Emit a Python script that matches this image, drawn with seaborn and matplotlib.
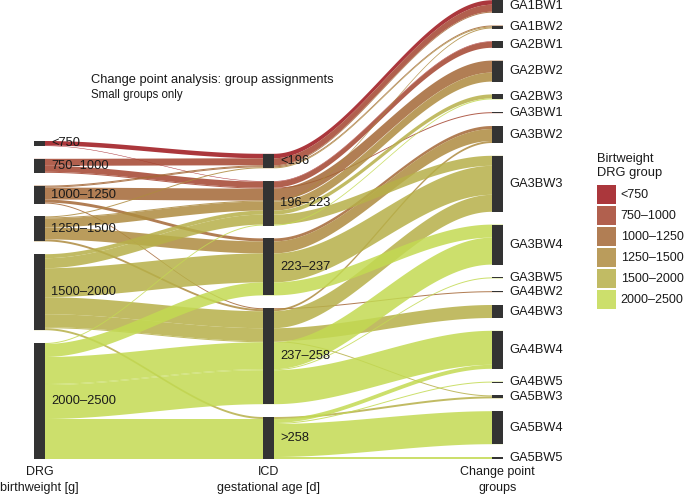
import numpy as np
import pandas as pd
import matplotlib
matplotlib.use("Agg")
import matplotlib.pyplot as plt
from matplotlib.patches import Patch
import seaborn as sns

# ---------------- data ----------------
drg_levels = ["<750", "750–1000", "1000–1250", "1250–1500", "1500–2000", "2000–2500"]
icd_levels = ["<196", "196–223", "223–237", "237–258", ">258"]
cp_levels = ["GA1BW1", "GA1BW2", "GA2BW1", "GA2BW2", "GA2BW3", "GA3BW1", "GA3BW2",
             "GA3BW3", "GA3BW4", "GA3BW5", "GA4BW2", "GA4BW3", "GA4BW4", "GA4BW5",
             "GA5BW3", "GA5BW4", "GA5BW5"]

flow_drg = ["<750", "<750",
            "750–1000", "750–1000", "750–1000",
            "1000–1250", "1000–1250", "1000–1250", "1000–1250", "1000–1250",
            "1250–1500", "1250–1500", "1250–1500", "1250–1500", "1250–1500",
            "1500–2000", "1500–2000", "1500–2000", "1500–2000", "1500–2000", "1500–2000", "1500–2000",
            "2000–2500", "2000–2500", "2000–2500", "2000–2500", "2000–2500", "2000–2500",
            "2000–2500", "2000–2500", "2000–2500"]
flow_icd = ["<196", "196–223",
            "<196", "196–223", "196–223",
            "<196", "<196", "196–223", "223–237", "237–258",
            "<196", "196–223", "196–223", "223–237", "237–258",
            "196–223", "196–223", "223–237", "237–258", "237–258", "237–258", ">258",
            "196–223", "223–237", "237–258", "237–258", "237–258", ">258",
            ">258", ">258", ">258"]
flow_cp = ["GA1BW1", "GA2BW1",
           "GA1BW1", "GA2BW1", "GA3BW1",
           "GA1BW1", "GA1BW2", "GA2BW2", "GA3BW2", "GA4BW2",
           "GA1BW2", "GA1BW2", "GA2BW2", "GA3BW2", "GA3BW2",
           "GA2BW3", "GA3BW3", "GA3BW3", "GA3BW3", "GA4BW3", "GA5BW3", "GA5BW3",
           "GA2BW3", "GA3BW4", "GA3BW4", "GA3BW5", "GA4BW4", "GA4BW4",
           "GA4BW5", "GA5BW4", "GA5BW5"]
flow_n = [4.5, 0.5,
          7, 6, 1,
          1, 1, 12, 3, 1,
          1, 1, 9, 12, 2,
          4, 10, 29, 17, 13, 1, 2,
          1, 13, 27, 1, 34, 4,
          1, 33, 2]

drg_colors = ["#9D141A", "#A4442F", "#A46736", "#AE8B3F", "#B7B049", "#C3DA52"]

axis_titles = ["DRG\nbirthweight [g]", "ICD\ngestational age [d]", "Change point\ngroups"]
title = "Change point analysis: group assignments"
subtitle = "Small groups only"
legend_title = "Birtweight\nDRG group"

# ---------------- layout ----------------
sns.set_theme(style="white")
plt.rcParams["font.family"] = ["Liberation Sans", "DejaVu Sans"]

df = pd.DataFrame({"drg": flow_drg, "icd": flow_icd, "cp": flow_cp, "n": flow_n})
df["i_drg"] = df["drg"].map({k: i for i, k in enumerate(drg_levels)})
df["i_icd"] = df["icd"].map({k: i for i, k in enumerate(icd_levels)})
df["i_cp"] = df["cp"].map({k: i for i, k in enumerate(cp_levels)})

GAP = 12.8
AX_X = [39.5, 268.5, 497.5]
BW = 11.0
ALPHA = 0.85
TXT = "#1a1a1a"

axes_spec = [("drg", drg_levels, ["i_icd", "i_cp"]),
             ("icd", icd_levels, ["i_drg", "i_cp"]),
             ("cp", cp_levels, ["i_icd", "i_drg"])]

strata = []
lode_top = np.zeros((len(df), 3))
for a, (col, levels, order_cols) in enumerate(axes_spec):
    totals = df.groupby(col)["n"].sum().reindex(levels).fillna(0)
    T = totals.sum() + (len(levels) - 1) * GAP
    top = T
    st = []
    for lev in levels:
        h = totals[lev]
        st.append((lev, top - h, h))
        sub = df[df[col] == lev].sort_values(order_cols)
        y = top
        for idx, row in sub.iterrows():
            lode_top[idx, a] = y
            y -= row["n"]
        top -= h + GAP
    strata.append(st)

fig = plt.figure(figsize=(6.85, 4.96), dpi=100)
ax = fig.add_axes([0, 0, 1, 1])
ax.set_xlim(0, 685)
ax.set_ylim(-37, 459)
ax.axis("off")

t = np.linspace(0, 1, 80)
s = 3 * t ** 2 - 2 * t ** 3


def edge(ys):
    xs_all, ys_all = [AX_X[0] - BW / 2], [ys[0]]
    for k in range(2):
        xa = AX_X[k] + BW / 2
        xb = AX_X[k + 1] - BW / 2
        xs_all += list(xa + t * (xb - xa))
        ys_all += list(ys[k] + (ys[k + 1] - ys[k]) * s)
    xs_all.append(AX_X[2] + BW / 2)
    ys_all.append(ys[2])
    return np.array(xs_all), np.array(ys_all)


order = df.sort_values(["i_drg", "i_icd", "i_cp"]).index
for idx in order:
    n = df.loc[idx, "n"]
    tops = lode_top[idx]
    bots = tops - n
    xt, yt = edge(tops)
    xb, yb = edge(bots)
    xs = np.concatenate([xt, xb[::-1]])
    ys = np.concatenate([yt, yb[::-1]])
    ax.fill(xs, ys, color=drg_colors[df.loc[idx, "i_drg"]], alpha=ALPHA, lw=0, zorder=2)

for a, st in enumerate(strata):
    ax.bar([AX_X[a]] * len(st), [h for _, _, h in st], bottom=[b for _, b, _ in st],
           width=BW, color="#333333", linewidth=0, zorder=3)
    for lev, b, h in st:
        ax.text(AX_X[a] + BW / 2 + 6, b + h / 2, lev, ha="left", va="center",
                fontsize=9.3, color=TXT, zorder=4)
    ax.text(AX_X[a], -21, axis_titles[a], ha="center", va="center", fontsize=9,
            color=TXT, linespacing=1.35)

ax.text(91, 459 - 80, title, ha="left", va="center", fontsize=9.3, color=TXT)
ax.text(91, 459 - 95, subtitle, ha="left", va="center", fontsize=8.3, color=TXT)

handles = [Patch(facecolor=c, alpha=ALPHA, edgecolor="none") for c in drg_colors]
leg = ax.legend(handles, drg_levels, title=legend_title, loc="upper left",
                bbox_to_anchor=(597 / 685, 1 - 153 / 496), bbox_transform=fig.transFigure,
                frameon=False, fontsize=9, title_fontsize=9.3, handlelength=1.55,
                handleheight=1.95, labelspacing=0.17, handletextpad=0.35,
                borderpad=0, borderaxespad=0, alignment="left")
leg._legend_box.sep = 4
for txt in leg.get_texts():
    txt.set_color(TXT)
leg.get_title().set_color(TXT)
leg.get_title().set_linespacing(1.25)

fig.savefig("out.png", dpi=100)
